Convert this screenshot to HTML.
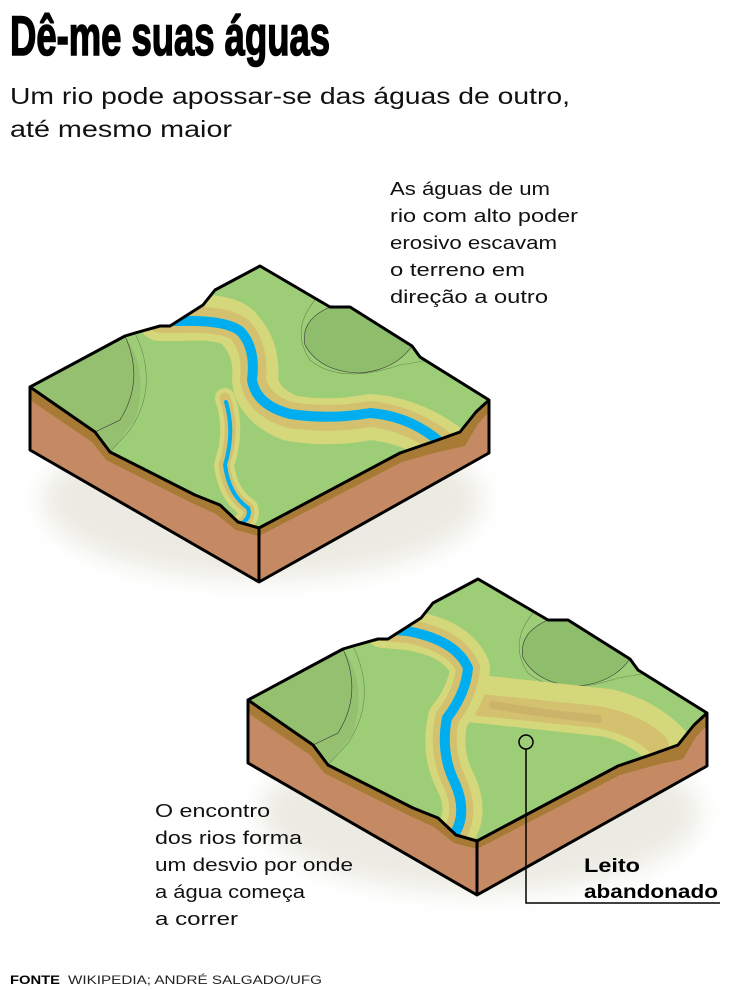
<!DOCTYPE html>
<html><head><meta charset="utf-8"><style>
html,body{margin:0;padding:0;background:#fff;}
svg{display:block;font-family:"Liberation Sans",sans-serif;}
</style></head><body>
<svg width="736" height="990" viewBox="0 0 736 990" xmlns="http://www.w3.org/2000/svg">
<defs>
<clipPath id="topc"><path d="M30,387 L125,336 L135,333 L160,326 L170,326 L203,305 L215,290 L260,266 L330,307 L350,307 L412,346 L420,357 L489,400 L476,412 L460,432 L435,441 L400,453 L259,528 L238,522 L220,505 L195,495 L110,452 L95,432 Z"/></clipPath>
<filter id="blur" x="-20%" y="-20%" width="140%" height="140%"><feGaussianBlur stdDeviation="12"/></filter>
<g id="base">
 <ellipse cx="262" cy="500" rx="220" ry="80" fill="#ecebe3" filter="url(#blur)"/>
 <path d="M30,387 L95,432 L110,452 L195,495 L220,505 L238,522 L259,528 L259,582 L30,450 Z" fill="#c58a63"/>
 <path d="M30,387 L95,432 L110,452 L195,495 L220,505 L238,522 L259,528 L259,536 L236,530 L216,514 L192,503 L106,460 L92,442 L30,400 Z" fill="#a77a35"/>
 <path d="M259,528 L400,453 L435,441 L460,432 L476,412 L489,400 L489,453 L259,582 Z" fill="#c58a63"/>
 <path d="M259,528 L400,453 L435,441 L460,432 L476,412 L489,400 L489,412 L478,424 L465,446 L438,452 L402,462 L259,536 Z" fill="#a77a35"/>
 <path d="M30,387 L125,336 L135,333 L160,326 L170,326 L203,305 L215,290 L260,266 L330,307 L350,307 L412,346 L420,357 L489,400 L476,412 L460,432 L435,441 L400,453 L259,528 L238,522 L220,505 L195,495 L110,452 L95,432 Z" fill="#9ecd78"/>
 <g clip-path="url(#topc)">
  <path d="M30,387 L125,336 Q150,370 135,420 L110,452 L95,432 Z" fill="#94c06f"/>
  <path d="M125,336 Q145,380 120,420 L95,432" fill="none" stroke="#333" stroke-width="0.6"/>
  <path d="M135,333 Q160,385 130,430 L110,452" fill="none" stroke="#6a8a50" stroke-width="0.6"/>
  <path d="M330,307 Q300,320 305,345 Q320,372 360,373 Q395,370 412,346 L350,307 Z" fill="#8ebd6c"/>
  <path d="M315,300 Q290,330 310,360 Q340,385 400,365 L430,360" fill="none" stroke="#6a8a50" stroke-width="0.6"/>
  <path d="M330,307 Q300,320 305,345 Q320,372 360,373 Q395,370 412,346" fill="none" stroke="#333" stroke-width="0.6"/>
 </g>
</g>
</defs>

<use href="#base"/>
<g clip-path="url(#topc)" fill="none" stroke-linecap="round" stroke-linejoin="round">
 <path d="M160,318 L180,318 Q230,315 240,330 Q258,350 255,380 Q258,405 290,418 Q330,425 370,417 Q410,420 445,445" stroke="#d5d77b" stroke-width="46"/>
 <path d="M160,320 L180,320 Q230,318 242,332 Q256,350 253,380 Q258,405 290,415 Q330,421 370,414 Q410,418 445,445" stroke="#d4c16f" stroke-width="26"/>
 <path d="M160,321 L180,321 Q230,320 242,333 Q256,350 252,380 Q256,405 290,414 Q330,420 370,413 Q410,416 440,442" stroke="#00aeef" stroke-width="10"/>
 <path d="M225,398 Q236,430 224,465 Q228,495 248,508 Q252,518 238,526" stroke="#d5d77b" stroke-width="20"/>
 <path d="M225,398 Q236,430 224,465 Q228,495 248,508 Q252,518 238,526" stroke="#d4c16f" stroke-width="11"/>
 <path d="M226,402 Q235,432 225,465 Q229,495 248,508 Q252,518 238,526" stroke="#00aeef" stroke-width="4"/>
</g>
<path d="M30,387 L125,336 L135,333 L160,326 L170,326 L203,305 L215,290 L260,266 L330,307 L350,307 L412,346 L420,357 L489,400 L489,453 L259,582 L30,450 Z M30,387 L95,432 L110,452 L195,495 L220,505 L238,522 L259,528 L400,453 L435,441 L460,432 L476,412 L489,400 M259,528 L259,582" fill="none" stroke="#000" stroke-width="3" stroke-linejoin="round"/>

<g transform="translate(218,313)">
<use href="#base"/>
<g clip-path="url(#topc)" fill="none" stroke-linecap="round" stroke-linejoin="round">
 <path d="M250,385 Q320,392 390,400 Q430,410 455,440" stroke="#d5d77b" stroke-width="48"/>
 <path d="M262,392 Q320,398 380,404 Q420,412 440,432" stroke="#d4c16f" stroke-width="22"/>
 <path d="M275,392 Q320,400 380,406" stroke="#ccb36a" stroke-width="8"/>
 <path d="M165,315 L189,317 Q240,325 252,355 Q250,380 230,405 Q222,440 238,470 Q252,500 236,522" stroke="#d5d77b" stroke-width="40"/>
 <path d="M165,316 L189,318 Q238,327 250,355 Q248,380 229,405 Q222,440 237,470 Q250,500 236,522" stroke="#d4c16f" stroke-width="24"/>
 <path d="M165,316 L189,318 Q238,327 250,355 Q248,380 229,405 Q222,440 237,470 Q250,500 236,522" stroke="#00aeef" stroke-width="10"/>
</g>
<path d="M30,387 L125,336 L135,333 L160,326 L170,326 L203,305 L215,290 L260,266 L330,307 L350,307 L412,346 L420,357 L489,400 L489,453 L259,582 L30,450 Z M30,387 L95,432 L110,452 L195,495 L220,505 L238,522 L259,528 L400,453 L435,441 L460,432 L476,412 L489,400 M259,528 L259,582" fill="none" stroke="#000" stroke-width="3" stroke-linejoin="round"/>
</g>

<circle cx="526" cy="742" r="7" fill="none" stroke="#000" stroke-width="1.5"/>
<path d="M526,749 L526,903 L720,903" fill="none" stroke="#000" stroke-width="1.5"/>

<text x="10" y="55" font-family="'Liberation Sans Narrow','Liberation Sans',sans-serif" font-weight="bold" font-size="56" stroke="#000" stroke-width="1.6" textLength="320" lengthAdjust="spacingAndGlyphs">Dê-me suas águas</text>
<text x="10" y="104" font-size="23" textLength="560" lengthAdjust="spacingAndGlyphs" fill="#111">Um rio pode apossar-se das águas de outro,</text>
<text x="10" y="137" font-size="23" textLength="222" lengthAdjust="spacingAndGlyphs" fill="#111">até mesmo maior</text>
<g font-size="18.5" fill="#111" lengthAdjust="spacingAndGlyphs">
<text x="390" y="195" textLength="160" lengthAdjust="spacingAndGlyphs">As águas de um</text>
<text x="390" y="222" textLength="188" lengthAdjust="spacingAndGlyphs">rio com alto poder</text>
<text x="390" y="249" textLength="167" lengthAdjust="spacingAndGlyphs">erosivo escavam</text>
<text x="390" y="276" textLength="135" lengthAdjust="spacingAndGlyphs">o terreno em</text>
<text x="390" y="303" textLength="158" lengthAdjust="spacingAndGlyphs">direção a outro</text>
<text x="155" y="817" textLength="115" lengthAdjust="spacingAndGlyphs">O encontro</text>
<text x="155" y="844" textLength="147" lengthAdjust="spacingAndGlyphs">dos rios forma</text>
<text x="155" y="871" textLength="198" lengthAdjust="spacingAndGlyphs">um desvio por onde</text>
<text x="155" y="898" textLength="150" lengthAdjust="spacingAndGlyphs">a água começa</text>
<text x="155" y="925" textLength="83" lengthAdjust="spacingAndGlyphs">a correr</text>
</g>
<text x="584" y="872" font-size="19" font-weight="bold" textLength="56" lengthAdjust="spacingAndGlyphs">Leito</text>
<text x="584" y="898" font-size="19" font-weight="bold" textLength="134" lengthAdjust="spacingAndGlyphs">abandonado</text>
<text x="10" y="984" font-size="12" font-weight="bold" textLength="50" lengthAdjust="spacingAndGlyphs">FONTE</text>
<text x="68" y="984" font-size="12" fill="#222" textLength="254" lengthAdjust="spacingAndGlyphs">WIKIPEDIA; ANDRÉ SALGADO/UFG</text>
</svg>
</body></html>
